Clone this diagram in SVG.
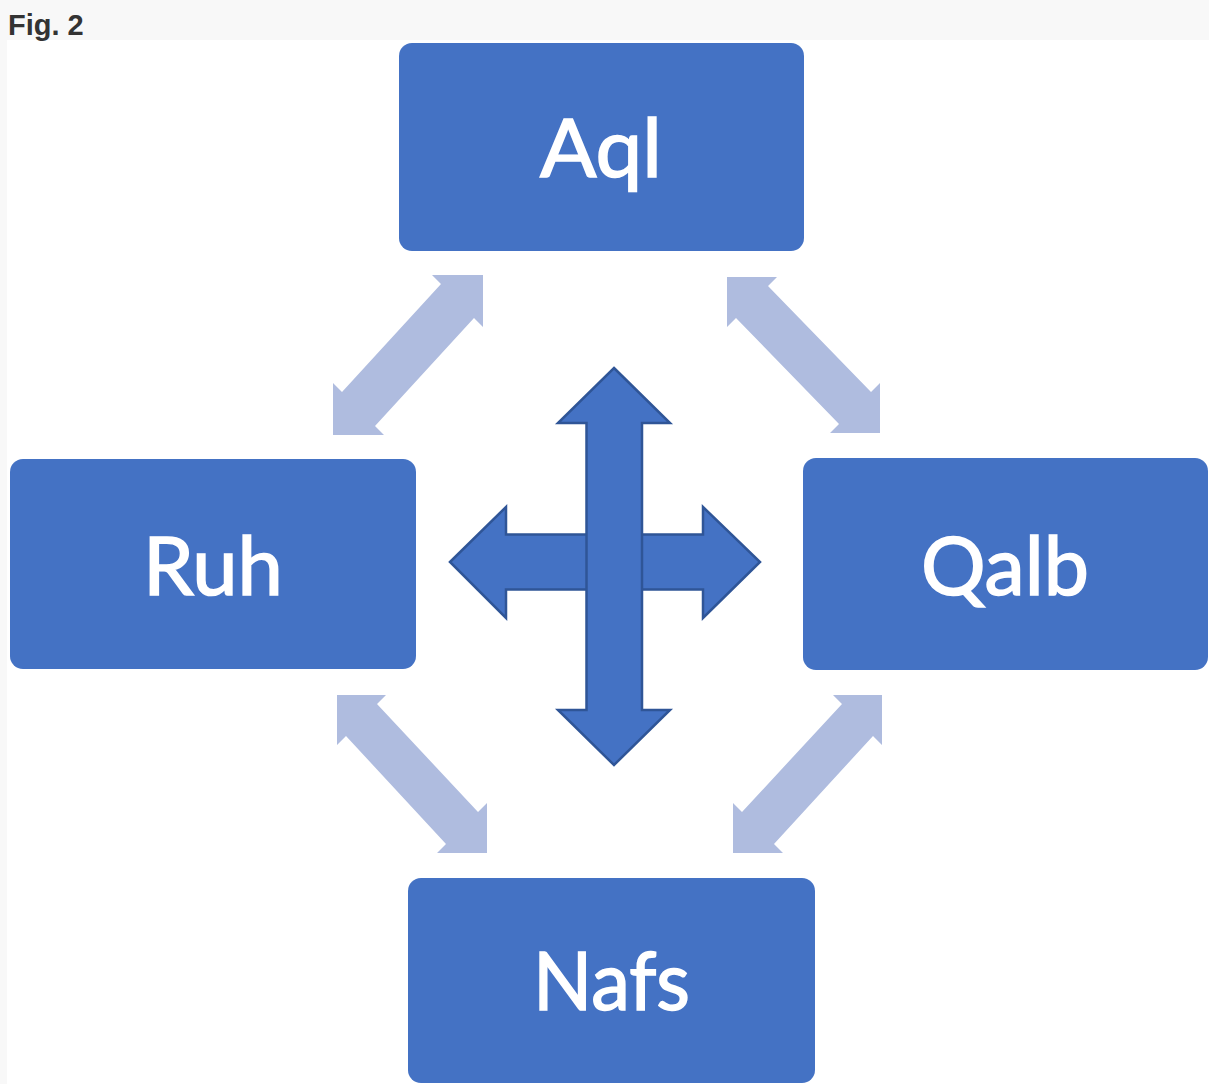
<svg xmlns="http://www.w3.org/2000/svg" width="1209" height="1084" viewBox="0 0 1209 1084">
<style>
.box{fill:#4472C4;}
.lbl{fill:#FFFFFF;stroke:#FFFFFF;stroke-width:1.6;font-family:Lato,"Open Sans","Liberation Sans",sans-serif;font-size:82px;}
.light{fill:#AFBCDF;}
.cross{fill:#4472C4;stroke:#2F5597;stroke-width:2.5;stroke-linejoin:miter;}
.fig{fill:#333333;font-family:"Liberation Sans",Arial,sans-serif;font-weight:bold;font-size:29px;}
</style>
<rect x="0" y="0" width="1209" height="1084" fill="#F8F8F8"/>
<rect x="7" y="40" width="1202" height="1044" fill="#FFFFFF"/>
<text class="fig" x="8" y="35">Fig. 2</text>

<g id="connectors">
  <polygon id="ruh-aql" class="light" points="483,275 432,275 441,284 342,392 333,383 333,435 384,435 375,426 474,318 483,327"/>
  <polygon id="aql-qalb" class="light" points="727,277 777,277 768,286 871,392 880,383 880,433 830,433 839,424 736,318 727,327"/>
  <polygon id="ruh-nafs" class="light" points="337,695 386,695 377,704 478,812 487,803 487,853 437,853 446,844 346,736 337,745"/>
  <polygon id="qalb-nafs" class="light" points="882,695 833,695 842,704 742,812 733,803 733,853 783,853 774,844 873,736 882,745"/>
  <polygon id="cross-h" class="cross" points="450,562 506,507 506,534.5 703,534.5 703,507 760,562 703,618 703,589.5 506,589.5 506,618"/>
  <polygon id="cross-v" class="cross" points="614,368 670,423 642,423 642,710 670,710 614,765 558,710 586.5,710 586.5,423 558,423"/>
</g>

<g id="aql">
  <rect class="box" x="399" y="43" width="405" height="208" rx="13"/>
  <text class="lbl" x="540" y="177" textLength="122" lengthAdjust="spacingAndGlyphs">Aql</text>
</g>
<g id="ruh">
  <rect class="box" x="10" y="459" width="406" height="210" rx="13"/>
  <text class="lbl" x="143" y="595" textLength="140" lengthAdjust="spacingAndGlyphs">Ruh</text>
</g>
<g id="qalb">
  <rect class="box" x="803" y="458" width="405" height="212" rx="13"/>
  <text class="lbl" x="921" y="595" textLength="168" lengthAdjust="spacingAndGlyphs">Qalb</text>
</g>
<g id="nafs">
  <rect class="box" x="408" y="878" width="407" height="205" rx="13"/>
  <text class="lbl" x="533" y="1010" textLength="157" lengthAdjust="spacingAndGlyphs">Nafs</text>
</g>
</svg>
